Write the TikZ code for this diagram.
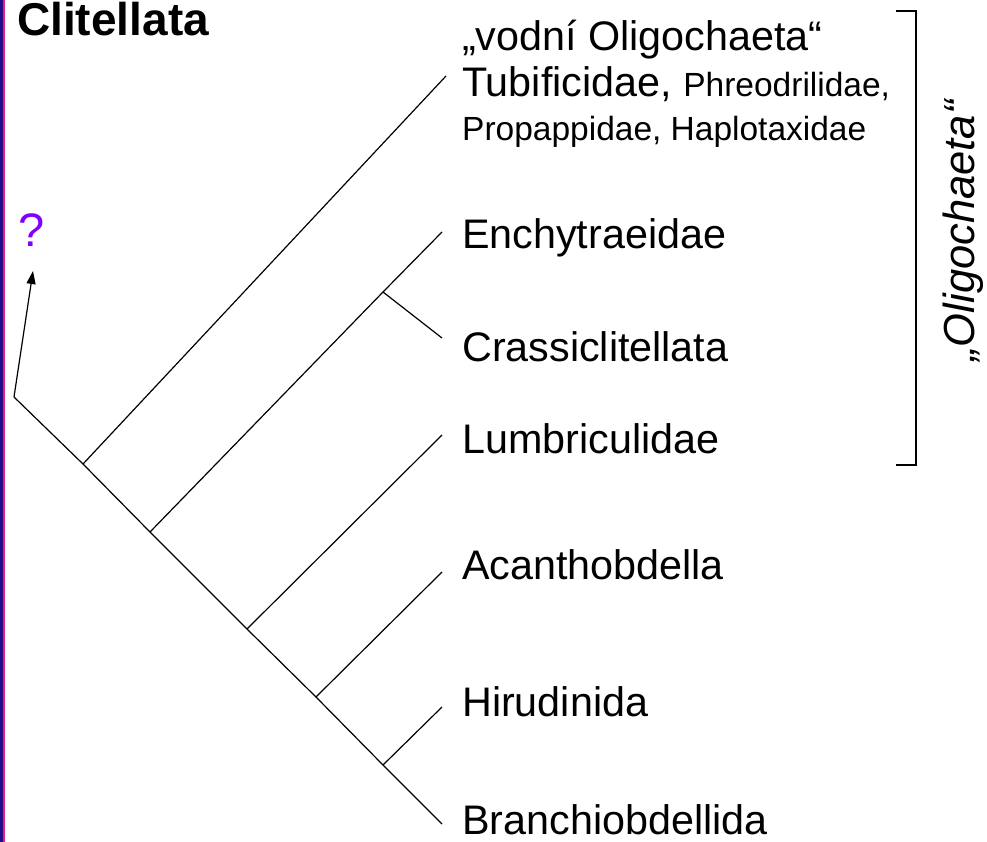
\documentclass[tikz,border=0pt]{standalone}
\usepackage{fontspec}
\setmainfont{Liberation Sans}
\usetikzlibrary{arrows.meta}
\definecolor{barnavy}{RGB}{40,10,130}
\definecolor{barpink}{RGB}{225,30,140}
\definecolor{qviolet}{RGB}{128,0,255}
\tikzset{
  branch/.style={draw=black, line width=1.2pt},
  taxon/.style={anchor=base west, inner sep=0pt, font=\fontsize{41.3}{48}\selectfont},
  smalltaxon/.style={anchor=base west, inner sep=0pt, font=\fontsize{33.5}{40}\selectfont},
}
\begin{document}
\begin{tikzpicture}[x=1pt,y=-1pt]
\useasboundingbox (0,0) rectangle (987,842);
% left bar
\fill[barnavy] (0,0) rectangle (3,842);
\fill[barpink] (3,0) rectangle (5,842);
% title
\node[anchor=base west, inner sep=0pt, font=\fontsize{46}{54}\selectfont\bfseries] (title) at (17,36) {Clitellata};
% tree coordinates
\coordinate (R) at (14,397);
\coordinate (J1) at (83,464);
\coordinate (J2) at (150,532);
\coordinate (J3) at (247,629);
\coordinate (J4) at (316,697);
\coordinate (J5) at (383,765);
\coordinate (JC) at (383,292);
\coordinate (L1) at (446,76);
\coordinate (L2) at (442,232);
\coordinate (L3) at (442,338);
\coordinate (L4) at (442,435);
\coordinate (L5) at (442,572);
\coordinate (L6) at (442,707);
\coordinate (L7) at (442,824);
\coordinate (Q) at (33,271);
% branches
\draw[branch] (R) -- (J1) -- (J2) -- (J3) -- (J4) -- (J5) -- (L7);
\draw[branch] (J1) -- (L1);
\draw[branch] (J2) -- (JC) -- (L2);
\draw[branch] (JC) -- (L3);
\draw[branch] (J3) -- (L4);
\draw[branch] (J4) -- (L5);
\draw[branch] (J5) -- (L6);
\draw[branch, -{Triangle[length=13pt,width=9pt]}] (R) -- (Q);
% question mark
\node[anchor=base west, inner sep=0pt, text=qviolet, font=\fontsize{47}{54}\selectfont] (qm) at (18,247) {?};
% labels
\node[taxon] (t1) at (462,51) {„vodní Oligochaeta“};
\node[taxon] (t2) at (462,97) {Tubificidae, {\fontsize{33.5}{40}\selectfont Phreodrilidae,}};
\node[smalltaxon] (t3) at (462,141) {Propappidae, Haplotaxidae};
\node[taxon] (t4) at (462,249) {Enchytraeidae};
\node[taxon] (t5) at (462,361) {Crassiclitellata};
\node[taxon] (t6) at (462,453) {Lumbriculidae};
\node[taxon] (t7) at (462,579) {Acanthobdella};
\node[taxon] (t8) at (462,716) {Hirudinida};
\node[taxon] (t9) at (462,834) {Branchiobdellida};
% bracket
\coordinate (B1) at (896,11);
\coordinate (B2) at (916,11);
\coordinate (B3) at (916,465);
\coordinate (B4) at (896,465);
\draw[branch] (B1) -- (B2) -- (B3) -- (B4);
\node[rotate=90, inner sep=0pt, font=\fontsize{43.5}{50}\selectfont\itshape] (olig) at (963,231) {„Oligochaeta“};
\end{tikzpicture}
\end{document}
